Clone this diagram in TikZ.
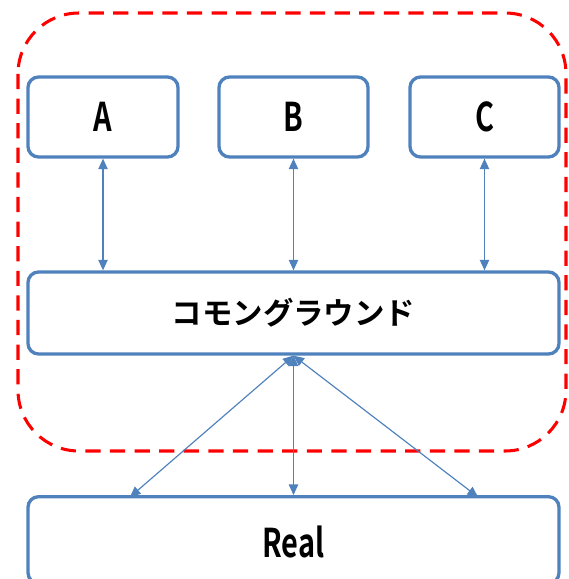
\documentclass[tikz,border=0pt]{standalone}
\usepackage{fontspec}
\setmainfont{Noto Sans CJK JP}[BoldFont={Noto Sans CJK JP Bold}]
\usepackage{tikz}
\usetikzlibrary{arrows.meta}

\definecolor{boxblue}{RGB}{79,129,189}
% narrow, tall latin labels
\newcommand{\tallabel}[1]{\raisebox{-3pt}{\scalebox{0.95}[1.3]{#1}}}

\begin{document}
\begin{tikzpicture}[x=0.03cm,y=-0.03cm,
  box/.style={draw=boxblue,line width=2.8pt,rounded corners=9pt,fill=white,inner sep=0pt,font=\bfseries\fontsize{26}{30}\selectfont},
  link/.style={draw=boxblue,line width=1pt,{Triangle[length=9pt,width=8pt]}-{Triangle[length=9pt,width=8pt]}}]
\clip (0,0) rectangle (569,579);
\useasboundingbox (0,0) rectangle (569,579);

% outer group
\draw[red,line width=2.6pt,dash pattern=on 13pt off 8pt,rounded corners=52pt] (18,13) rectangle (566,451);

\node[box,minimum width=4.5cm,minimum height=2.4cm] (a) at (103,117) {\tallabel{A}};
\node[box,minimum width=4.47cm,minimum height=2.4cm] (b) at (293.5,117) {\tallabel{B}};
\node[box,minimum width=4.47cm,minimum height=2.4cm] (c) at (484.5,117) {\tallabel{C}};
\node[box,minimum width=15.93cm,minimum height=2.46cm] (ground) at (293.5,313) {コモングラウンド};
\node[box,minimum width=15.93cm,minimum height=2.6cm,text depth=-0.15cm] (real) at (293.5,540) {\tallabel{Real}};

\coordinate (r1) at (130,497);
\coordinate (r3) at (478,497);

\path[link] (a.south) -- (a.south |- ground.north);
\path[link] (b.south) -- (b.south |- ground.north);
\path[link] (c.south) -- (c.south |- ground.north);
\path[link] (ground.south) -- (r1);
\path[link] (ground.south) -- (real.north);
\path[link] (ground.south) -- (r3);
\end{tikzpicture}
\end{document}
